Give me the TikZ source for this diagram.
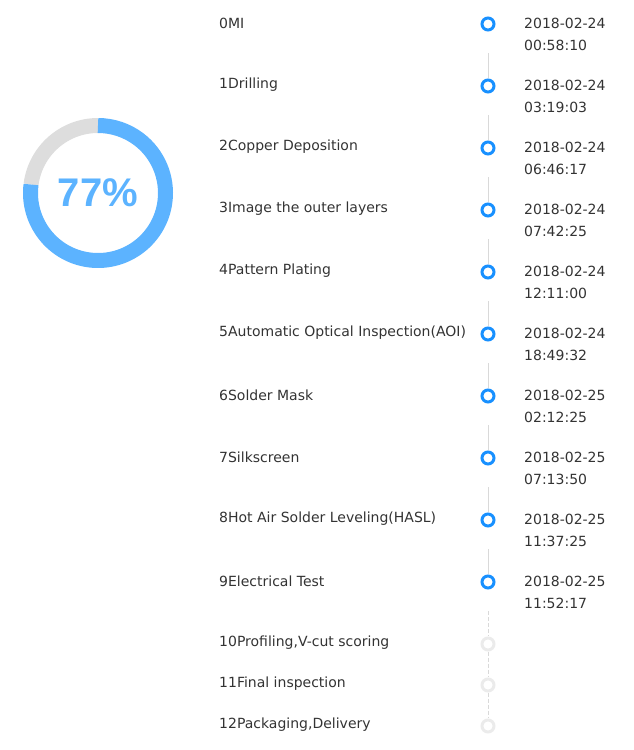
\documentclass[tikz,border=0pt]{standalone}
\usepackage{fontspec}
\setmainfont{DejaVu Sans}
\newfontfamily\pctfont{Liberation Sans}
\definecolor{ringblue}{RGB}{92,179,255}
\definecolor{dotblue}{RGB}{24,144,255}
\definecolor{ringgrey}{RGB}{221,221,221}
\definecolor{linegrey}{RGB}{217,217,217}
\definecolor{dotgrey}{RGB}{235,235,235}
\definecolor{txt}{RGB}{51,51,51}
\begin{document}
\begin{tikzpicture}[x=1pt,y=1pt,
  lbl/.style={anchor=west,inner sep=0pt,font=\fontsize{14}{16}\selectfont,text=txt},
  dotnode/.style={circle,minimum size=15pt,inner sep=0pt},
  donering/.style={draw=dotblue,line width=3pt},
  todoring/.style={draw=dotgrey,line width=3pt},
  solidlink/.style={draw=linegrey,line width=1pt},
  dashlink/.style={draw=linegrey,line width=1pt,dashed,dash pattern=on 4pt off 2pt}]
\useasboundingbox (0,0) rectangle (634,-750);
% donut
\coordinate (c) at (98,-193);
\draw[ringgrey,line width=15pt] (c) ++(90:67.5) arc[start angle=90,end angle=172.8,radius=67.5];
\draw[ringblue,line width=15pt] (c) ++(172.8:67.5) arc[start angle=172.8,end angle=450,radius=67.5];
\node[text=ringblue,font=\fontsize{40}{40}\selectfont\pctfont\bfseries] (pct) at (c) {77\%};
% done steps
\foreach \i/\t/\d/\h in {0/0MI/2018-02-24/00:58:10,
  1/1Drilling/2018-02-24/03:19:03,
  2/2Copper Deposition/2018-02-24/06:46:17,
  3/3Image the outer layers/2018-02-24/07:42:25,
  4/4Pattern Plating/2018-02-24/12:11:00,
  5/5Automatic Optical Inspection(AOI)/2018-02-24/18:49:32,
  6/6Solder Mask/2018-02-25/02:12:25,
  7/7Silkscreen/2018-02-25/07:13:50,
  8/8Hot Air Solder Leveling(HASL)/2018-02-25/11:37:25,
  9/9Electrical Test/2018-02-25/11:52:17}{
  \pgfmathsetmacro{\yy}{-24-62*\i}
  \node[dotnode] (d\i) at (488,\yy) {};
  \draw[donering] (d\i) circle[radius=6];
  \node[lbl] (l\i) at (219,\yy+1) {\t};
  \node[lbl] (ta\i) at (524,\yy+1) {\d};
  \node[lbl] (tb\i) at (524,\yy-21) {\h};
  \coordinate (s\i) at (488,\yy-29);
}
\foreach \i/\j in {0/1,1/2,2/3,3/4,4/5,5/6,6/7,7/8,8/9}{
  \draw[solidlink] (s\i) -- (d\j.north);
}
% pending steps
\foreach \i/\t/\yy in {10/10Profiling{,}V-cut scoring/-644,
  11/11Final inspection/-685,
  12/12Packaging{,}Delivery/-726}{
  \node[dotnode] (d\i) at (488,\yy) {};
  \draw[todoring] (d\i) circle[radius=6];
  \node[lbl] (l\i) at (219,\yy+1) {\t};
}
\draw[dashlink] (s9) -- (d10.north);
\draw[dashlink] (d10.south) -- (d11.north);
\draw[dashlink] (d11.south) -- (d12.north);
\end{tikzpicture}
\end{document}
